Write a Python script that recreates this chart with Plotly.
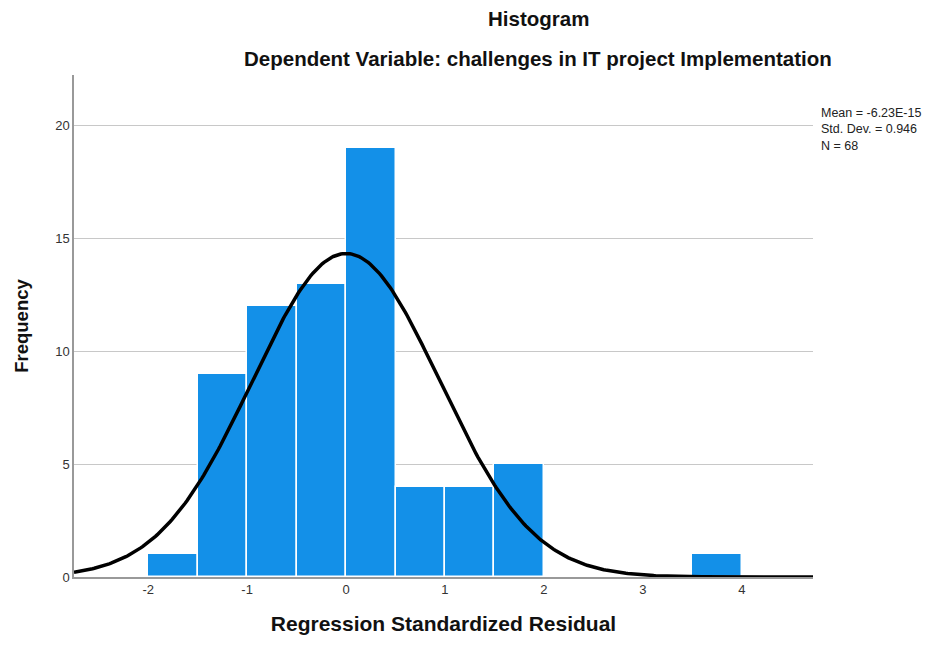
import numpy as np
import plotly.graph_objects as go

bin_starts = [-2.0, -1.5, -1.0, -0.5, 0.0, 0.5, 1.0, 1.5, 2.0, 2.5, 3.0, 3.5]
counts = [1, 9, 12, 13, 19, 4, 4, 5, 0, 0, 0, 1]
bin_width = 0.5
mean = -6.23e-15
std = 0.946
n = 68
x_ticks = [-2, -1, 0, 1, 2, 3, 4]
x_ticklabels = ["-2", "-1", "0", "1", "2", "3", "4"]
y_ticks = [0, 5, 10, 15, 20]

xs = np.linspace(-2.75, 4.72, 400)
ys = n * bin_width / (std * np.sqrt(2 * np.pi)) * np.exp(-0.5 * ((xs - mean) / std) ** 2)

OFF = 8  # page body margin
L, R, T, B = 70 - OFF, 121 + OFF, 75 - OFF, 68 + OFF

fig = go.Figure()
fig.add_trace(go.Bar(
    x=[b + bin_width / 2 for b in bin_starts], y=counts, width=bin_width,
    marker=dict(color="#1390E8", line=dict(color="white", width=1.5)),
    hoverinfo="skip"))
fig.add_trace(go.Scatter(x=xs, y=ys, mode="lines", line=dict(color="black", width=3.5),
                         hoverinfo="skip"))

fnt = "Liberation Sans, Arial, sans-serif"
fig.update_layout(
    width=934, height=645, showlegend=False, bargap=0,
    paper_bgcolor="white", plot_bgcolor="white",
    margin=dict(l=L, r=R, t=T, b=B),
    font=dict(family=fnt, color="#222"),
    xaxis=dict(range=[-2.75, 4.72], tickvals=x_ticks, ticktext=x_ticklabels,
               showgrid=False, zeroline=False, showline=True, linecolor="#999", linewidth=1.5,
               ticks="", tickfont=dict(size=13, color="#333"),
               title=dict(text="<b>Regression Standardized Residual</b>", font=dict(size=21, color="#111"), standoff=20)),
    yaxis=dict(range=[0, 22.25], tickvals=y_ticks,
               showgrid=True, gridcolor="#C8C8C8", gridwidth=1, zeroline=False,
               showline=True, linecolor="#999", linewidth=1.5, ticks="",
               tickfont=dict(size=13, color="#333"),
               title=dict(text="<b>Frequency</b>", font=dict(size=18.5, color="#111"), standoff=22)),
    annotations=[
        dict(text="<b>Histogram</b>", x=537, y=18, xref="paper", yref="paper", showarrow=False,
             font=dict(size=20.5, color="#111"), xanchor="center", yanchor="middle"),
        dict(text="<b>Dependent Variable: challenges in IT project Implementation</b>", x=537, y=58,
             xref="paper", yref="paper", showarrow=False, font=dict(size=20.5, color="#111"),
             xanchor="center", yanchor="middle"),
        dict(text=f"Mean = -6.23E-15<br>Std. Dev. = {std}<br>N = {n}", x=819, y=104,
             xref="paper", yref="paper", showarrow=False, align="left",
             font=dict(size=12.5, color="#222"), xanchor="left", yanchor="top"),
    ],
)
# convert window pixel positions of annotations to paper coordinates
pw, ph = 934 - L - R, 645 - T - B
for a in fig.layout.annotations:
    px, py = a.x - OFF, a.y - OFF
    a.x = (px - L) / pw
    a.y = 1 - (py - T) / ph

fig.write_html("out.html")
